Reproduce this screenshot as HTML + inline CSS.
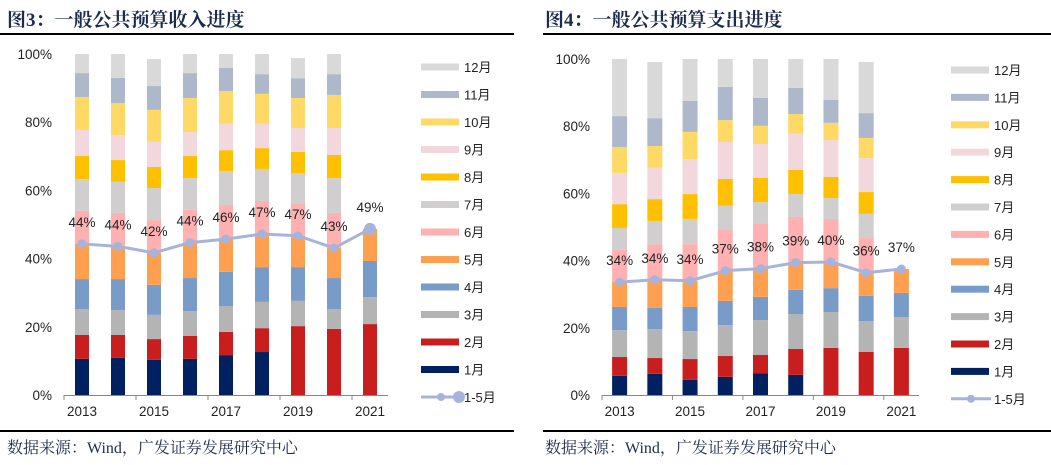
<!DOCTYPE html>
<html><head><meta charset="utf-8">
<style>
html,body{margin:0;padding:0;background:#fff;}
body{width:1051px;height:465px;position:relative;overflow:hidden;font-family:"Liberation Sans","Noto Sans CJK SC",sans-serif;}
.title{position:absolute;top:5px;font-family:"Liberation Serif","Noto Serif CJK SC",serif;font-weight:bold;font-size:19px;color:#1c2b4c;white-space:nowrap;}
.rule{position:absolute;height:1.5px;background:#000;}
.src{position:absolute;top:435px;font-family:"Liberation Serif","Noto Serif CJK SC",serif;font-size:16px;color:#1c2b4c;}
svg{position:absolute;left:0;top:0;}
</style></head>
<body>
<div class="title" style="left:7px">图3：一般公共预算收入进度</div>
<div class="title" style="left:545px">图4：一般公共预算支出进度</div>
<div class="rule" style="left:0;width:514px;top:33px"></div>
<div class="rule" style="left:543px;width:508px;top:33px"></div>
<div class="rule" style="left:0;width:514px;top:430px"></div>
<div class="rule" style="left:543px;width:508px;top:430px"></div>
<div class="src" style="left:7px">数据来源：Wind，广发证券发展研究中心</div>
<div class="src" style="left:545px">数据来源：Wind，广发证券发展研究中心</div>
<svg id="chart" width="1051" height="465"></svg>
<script>
const years = ["2013","2014","2015","2016","2017","2018","2019","2020","2021"];
const monthNames = ["1月","2月","3月","4月","5月","6月","7月","8月","9月","10月","11月","12月"];
const yTicks = [0,20,40,60,80,100];
const xTickLabels = ["2013","2015","2017","2019","2021"];
// revenue cumulative progress (%) by month end
const revCum1 = [10.6,10.9,10.3,10.6,11.7,12.6,0,0,0];
const revCum2 = [17.6,17.6,16.4,17.3,18.5,19.6,20.2,19.4,20.8];
const revCum3 = [25.2,24.9,23.5,24.6,26.1,27.3,27.6,25.2,28.7];
const revCum4 = [34.0,34.0,32.3,34.3,36.1,37.5,37.5,34.3,39.3];
const revCum5 = [44.3,43.6,41.7,44.7,45.7,47.2,46.7,43.1,48.7];
const revCum6 = [54.0,53.4,51.3,54.3,55.7,56.9,56.0,53.4,null];
const revCum7 = [63.3,62.5,60.7,63.6,65.7,66.3,65.1,63.6,null];
const revCum8 = [70.1,68.9,66.9,70.1,71.8,72.4,71.3,70.4,null];
const revCum9 = [77.7,76.2,74.2,77.1,79.5,79.5,78.3,78.3,null];
const revCum10 = [87.4,85.6,83.6,87.1,89.1,88.3,87.1,88.0,null];
const revCum11 = [94.4,93.0,90.6,94.4,95.9,94.1,92.9,94.1,null];
const revCum12 = [100,100,98.5,100,100,100,98.8,100,null];
const revLabels = ["44%","44%","42%","44%","46%","47%","47%","43%","49%"];
// expenditure cumulative progress (%)
const expCum1 = [5.7,6.3,4.5,5.4,6.5,6.0,0,0,0];
const expCum2 = [11.3,11.0,10.7,11.6,11.9,13.7,14.0,12.8,14.0];
const expCum3 = [19.3,19.6,19.0,20.8,22.3,24.1,24.7,22.0,23.2];
const expCum4 = [26.2,25.9,26.2,28.0,29.2,31.3,31.8,29.5,30.4];
const expCum5 = [33.6,34.3,34.0,37.0,37.6,39.4,39.6,36.4,37.5];
const expCum6 = [43.2,44.9,44.9,49.1,50.9,53.0,52.4,46.7,null];
const expCum7 = [49.7,51.8,52.4,56.3,57.4,59.8,58.6,53.9,null];
const expCum8 = [56.8,58.3,59.8,64.3,64.6,67.0,64.9,60.4,null];
const expCum9 = [66.1,67.6,70.2,75.3,74.7,77.7,75.9,70.5,null];
const expCum10 = [73.8,74.1,78.3,81.8,80.1,83.6,81.0,76.5,null];
const expCum11 = [83.0,82.4,87.5,91.7,88.4,91.4,87.8,83.9,null];
const expCum12 = [100,99.1,100,100,100,100,100,99.1,null];
const expLabels = ["34%","34%","34%","37%","38%","39%","40%","36%","37%"];

const colors = ["#002060","#C81E1E","#B4B4B4","#789BC8","#FFA050","#FFB0B0","#D0CECE","#FFC000","#F2D8DC","#FFD966","#ADB9CA","#D9D9D9"];
const lineColor = "#A6B4DC";
const NS = "http://www.w3.org/2000/svg";
const svg = document.getElementById("chart");
function mk(tag, attrs, parent){
  const e = document.createElementNS(NS, tag);
  for (const k in attrs) e.setAttribute(k, attrs[k]);
  (parent||svg).appendChild(e);
  return e;
}
function drawChart(cfg){
  const g = mk("g", {});
  
  
  const yS = v => cfg.y0 - (v/100)*(cfg.y0-cfg.y100);
  const step = (cfg.x1-cfg.x0)/years.length;
  const xS = i => cfg.x0 + step*(i+0.5);
  yTicks.forEach(t => {
    const tx = mk("text", {x:cfg.yLabelX, y:yS(t)+5, "text-anchor":"end", "font-size":"13.5", fill:"#222"}, g);
    tx.textContent = t + "%";
    
    
  });
  const ax = mk("line", {x1:cfg.x0, x2:cfg.x1, y1:cfg.y0+0.5, y2:cfg.y0+0.5, stroke:"#888", "stroke-width":1}, g);
  
  
  for (let i=0;i<=years.length;i+=2){
    const xx = Math.min(cfg.x0 + step*i, cfg.x1);
    const tk = mk("line", {x1:xx, x2:xx, y1:cfg.y0, y2:cfg.y0+5, stroke:"#888"}, g);
    
    
  }
  xTickLabels.forEach(lbl => {
    const i = years.indexOf(lbl);
    const tx = mk("text", {x:xS(i), y:cfg.y0+21, "text-anchor":"middle", "font-size":"13.5", fill:"#222"}, g);
    tx.textContent = lbl;
    
    
  });
  years.forEach((yr, i) => {
    let prev = 0;
    cfg.cums.forEach((arr, m) => {
      const v = arr[i];
      if (v === null || v === undefined) return;
      if (v > prev) {
        const r = mk("rect", {x:xS(i)-cfg.bw/2, y:yS(v), width:cfg.bw, height:yS(prev)-yS(v), fill:colors[m]}, g);
        
        
      }
      prev = Math.max(prev, v);
    });
  });
  const line = cfg.cums[4];
  const pts = line.map((v,i) => xS(i) + "," + yS(v)).join(" ");
  const pl = mk("polyline", {points:pts, fill:"none", stroke:lineColor, "stroke-width":3, "stroke-linejoin":"round"}, g);
  
  
  line.forEach((v,i) => {
    const c = mk("circle", {cx:xS(i), cy:yS(v), r:(cfg.big && i===line.length-1)?6:4.5, fill:lineColor}, g);
    
    
    const t = mk("text", {x:xS(i), y:yS(v)-17, "text-anchor":"middle", "font-size":"13.5", fill:"#222"}, g);
    t.textContent = cfg.labels[i];
    
    
  });
  // legend
  for (let m=11; m>=0; m--){
    const yy = cfg.legY + (11-m)*cfg.legStep;
    const sw = mk("rect", {x:cfg.legX, y:yy-3.5, width:38, height:7, fill:colors[m]}, g);
    
    
    const t = mk("text", {x:cfg.legX+43, y:yy+5, "font-size":"13", fill:"#222"}, g);
    t.textContent = monthNames[m];
    
    
  }
  const ly = cfg.legY + 12*cfg.legStep;
  const ll = mk("line", {x1:cfg.legX, x2:cfg.legX+40, y1:ly, y2:ly, stroke:lineColor, "stroke-width":3}, g);
  
  
  const lc = mk("circle", {cx:cfg.legX+20, cy:ly, r:4, fill:lineColor}, g);
  
  
  if (cfg.big) {
    const lc2 = mk("circle", {cx:cfg.legX+38, cy:ly, r:6, fill:lineColor}, g);
    
    
  }
  const lt = mk("text", {x:cfg.legX+43, y:ly+5, "font-size":"13", fill:"#222"}, g);
  lt.textContent = "1-5月";
  
  
}
drawChart({name:"revenue-chart", x0:64, x1:388, y0:395, y100:54, bw:14, yLabelX:52,
  cums:[revCum1,revCum2,revCum3,revCum4,revCum5,revCum6,revCum7,revCum8,revCum9,revCum10,revCum11,revCum12],
  labels:revLabels, legX:421, legY:67, legStep:27.5, big:true});
drawChart({name:"expenditure-chart", x0:602, x1:919, y0:395, y100:59, bw:15, yLabelX:590,
  cums:[expCum1,expCum2,expCum3,expCum4,expCum5,expCum6,expCum7,expCum8,expCum9,expCum10,expCum11,expCum12],
  labels:expLabels, legX:951, legY:70, legStep:27.4, big:false});
</script>
</body></html>
